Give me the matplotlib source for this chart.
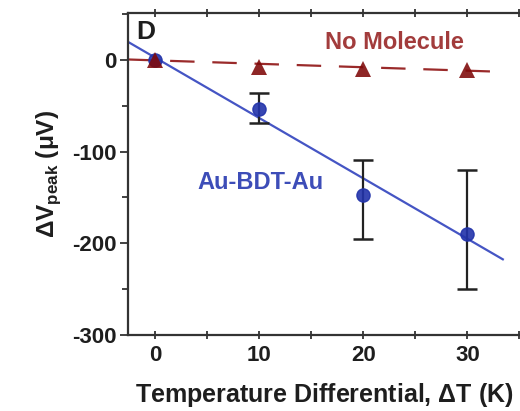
import matplotlib.pyplot as plt
from matplotlib.ticker import MultipleLocator

plt.rcParams['font.family'] = ['Liberation Sans', 'DejaVu Sans']
plt.rcParams['font.weight'] = 'bold'
plt.rcParams['axes.unicode_minus'] = False
plt.rcParams['mathtext.fontset'] = 'custom'
plt.rcParams['mathtext.rm'] = 'Liberation Sans:bold'
plt.rcParams['mathtext.bf'] = 'Liberation Sans:bold'

# Au-BDT-Au junction
dT_bdt = [0, 10, 20, 30]
dV_bdt = [0, -54, -147, -190]
err_lo = [0, 15, 48, 60]
err_hi = [0, 18, 38, 70]
fit_slope = -6.59
fit_intercept = 2.6

# no molecule control
dT_none = [0, 10, 20, 30]
dV_none = [0, -8, -10, -11]
none_slope = -0.375
none_intercept = -0.5

fit_x = [-2.6, 33.4]

blue = '#2233aa'
red = '#7e0808'
ink = '#1e1e1e'

fig = plt.figure(figsize=(5.2, 4.11), dpi=100)
ax = fig.add_axes([0.246, 0.185, 0.757, 0.783])

ax.plot(fit_x, [none_intercept + none_slope * x for x in fit_x],
        color='#9a2a2a', lw=1.6, dashes=(11, 8), zorder=2)
ax.plot(fit_x, [fit_intercept + fit_slope * x for x in fit_x],
        color='#4555c4', lw=1.6, zorder=2)
ax.errorbar(dT_bdt[1:], dV_bdt[1:], yerr=[err_lo[1:], err_hi[1:]],
            fmt='none', ecolor='#222222', elinewidth=1.6, capsize=7, capthick=1.8, zorder=4)
ax.plot(dT_bdt, dV_bdt, 'o', color=blue, ms=9.5, alpha=0.9, zorder=5)
ax.plot(dT_none, dV_none, '^', color=red, ms=12, alpha=0.88, mew=0, zorder=6)

ax.text(23.0, 19, 'No Molecule', color='#a23c3c', fontsize=17,
        fontweight='bold', ha='center', va='center')
ax.text(10.1, -134, 'Au-BDT-Au', color='#3d4db8', fontsize=17,
        fontweight='bold', ha='center', va='center')
ax.text(-1.8, 30, 'D', fontsize=19, fontweight='bold', va='center', ha='left', color=ink)

ax.set_xlim(-2.6, 35.2)
ax.set_ylim(-300, 51)
ax.xaxis.set_major_locator(MultipleLocator(10))
ax.xaxis.set_minor_locator(MultipleLocator(5))
ax.yaxis.set_major_locator(MultipleLocator(100))
ax.yaxis.set_minor_locator(MultipleLocator(50))
ax.tick_params(which='both', direction='out', width=1.3, labelsize=16,
               colors='#333333', labelcolor=ink, pad=2)
ax.tick_params(which='major', length=6)
ax.tick_params(which='minor', length=4)
ax.tick_params(which='both', top=True, right=True)
ax.tick_params(axis='x', which='both', direction='inout', length=6, pad=4)
for s in ax.spines.values():
    s.set_linewidth(1.6)
    s.set_color('#333333')

ax.set_xlabel('Temperature Differential, $\\Delta$T (K)', fontsize=18,
              fontweight='bold', color=ink, labelpad=11)
ax.set_ylabel('$\\Delta$V$_{\\mathbf{peak}}$ (\u03bcV)', fontsize=17.5,
              fontweight='bold', color=ink, labelpad=7)

fig.savefig('out.png', dpi=100)
